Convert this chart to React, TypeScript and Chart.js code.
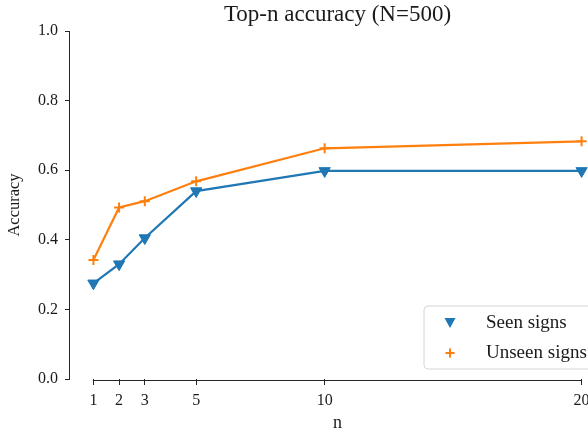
import React, { useEffect, useRef } from 'react';
import { Chart, registerables } from 'chart.js';

Chart.register(...registerables);

const nValues = [1, 2, 3, 5, 10, 20];
const seenAccuracy = [0.275, 0.33, 0.405, 0.54, 0.598, 0.598];
const unseenAccuracy = [0.342, 0.493, 0.511, 0.568, 0.663, 0.683];
const xTicks = [1, 2, 3, 5, 10, 20];
const yTicks = [0, 0.2, 0.4, 0.6, 0.8, 1.0];
const seriesLabels = ['Seen signs', 'Unseen signs'];
const titleText = 'Top-n accuracy (N=500)';
const xLabel = 'n';
const yLabel = 'Accuracy';

const BLUE = '#1f77b4';
const ORANGE = '#ff7f0e';
const AXIS = '#262626';
const TEXT = '#1a1a1a';
const FAMILY = '"Liberation Serif", "Times New Roman", serif';

const titlePlugin = {
  id: 'mplTitle',
  afterDraw(chart: any) {
    const { ctx, chartArea } = chart;
    ctx.save();
    ctx.font = `23px ${FAMILY}`;
    ctx.fillStyle = TEXT;
    ctx.textAlign = 'center';
    ctx.textBaseline = 'alphabetic';
    ctx.fillText(titleText, (chartArea.left + chartArea.right) / 2, 21);
    ctx.restore();
  },
};

const xAxisLinePlugin = {
  id: 'xAxisLine',
  afterDraw(chart: any) {
    const { ctx, chartArea } = chart;
    const xs = chart.scales.x;
    const x0 = xs.getPixelForValue(xTicks[0]);
    const x1 = xs.getPixelForValue(xTicks[xTicks.length - 1]);
    const y = chartArea.bottom + 1.5;
    ctx.save();
    ctx.strokeStyle = AXIS;
    ctx.lineWidth = 1;
    ctx.beginPath();
    ctx.moveTo(x0 - 0.5, y);
    ctx.lineTo(x1 + 0.5, y);
    ctx.stroke();
    ctx.restore();
  },
};

const legendPlugin = {
  id: 'mplLegend',
  afterDraw(chart: any) {
    const { ctx, chartArea } = chart;
    const w = 172;
    const h = 63;
    const right = chartArea.right - 10;
    const bottom = chartArea.bottom - 10;
    const left = right - w;
    const top = bottom - h;
    ctx.save();
    ctx.beginPath();
    const r = 4;
    ctx.moveTo(left + r, top);
    ctx.lineTo(right - r, top);
    ctx.quadraticCurveTo(right, top, right, top + r);
    ctx.lineTo(right, bottom - r);
    ctx.quadraticCurveTo(right, bottom, right - r, bottom);
    ctx.lineTo(left + r, bottom);
    ctx.quadraticCurveTo(left, bottom, left, bottom - r);
    ctx.lineTo(left, top + r);
    ctx.quadraticCurveTo(left, top, left + r, top);
    ctx.closePath();
    ctx.fillStyle = 'rgba(255,255,255,0.8)';
    ctx.fill();
    ctx.strokeStyle = '#d6d6d6';
    ctx.lineWidth = 1;
    ctx.stroke();

    const rows = [top + 17, top + 47];
    const mx = left + 26;
    const ty = rows[0];
    ctx.fillStyle = BLUE;
    ctx.beginPath();
    ctx.moveTo(mx - 5.5, ty - 5);
    ctx.lineTo(mx + 5.5, ty - 5);
    ctx.lineTo(mx, ty + 5);
    ctx.closePath();
    ctx.fill();
    const py = rows[1];
    ctx.strokeStyle = ORANGE;
    ctx.lineWidth = 2;
    ctx.beginPath();
    ctx.moveTo(mx - 4.5, py);
    ctx.lineTo(mx + 4.5, py);
    ctx.moveTo(mx, py - 4.5);
    ctx.lineTo(mx, py + 4.5);
    ctx.stroke();

    ctx.font = `19px ${FAMILY}`;
    ctx.fillStyle = TEXT;
    ctx.textAlign = 'left';
    ctx.textBaseline = 'middle';
    ctx.fillText(seriesLabels[0], left + 62, rows[0]);
    ctx.fillText(seriesLabels[1], left + 62, rows[1]);
    ctx.restore();
  },
};

export default function App() {
  const ref = useRef<HTMLCanvasElement>(null);

  useEffect(() => {
    document.body.style.margin = '0';
    const canvas = ref.current;
    if (!canvas) return;
    const chart = new Chart(canvas, {
      type: 'line',
      data: {
        datasets: [
          {
            label: seriesLabels[0],
            data: nValues.map((n, i) => ({ x: n, y: seenAccuracy[i] })),
            borderColor: BLUE,
            backgroundColor: BLUE,
            borderWidth: 2.2,
            tension: 0,
            fill: false,
            pointStyle: 'triangle',
            pointRotation: 180,
            pointRadius: 6.5,
            pointBackgroundColor: BLUE,
            pointBorderColor: BLUE,
            pointBorderWidth: 1,
          } as any,
          {
            label: seriesLabels[1],
            data: nValues.map((n, i) => ({ x: n, y: unseenAccuracy[i] })),
            borderColor: ORANGE,
            backgroundColor: ORANGE,
            borderWidth: 2.2,
            tension: 0,
            fill: false,
            pointStyle: 'cross',
            pointRadius: 5,
            pointBorderColor: ORANGE,
            pointBorderWidth: 2,
          } as any,
        ],
      },
      options: {
        responsive: false,
        animation: false,
        devicePixelRatio: 1,
        layout: { padding: { top: 31, left: 0, right: 0, bottom: 0 }, autoPadding: false },
        plugins: {
          legend: { display: false },
          title: { display: false },
          tooltip: { enabled: false },
        },
        events: [],
        scales: {
          x: {
            type: 'linear',
            min: 0.05,
            max: 20.95,
            afterBuildTicks: (s: any) => {
              s.ticks = xTicks.map((v) => ({ value: v }));
            },
            afterFit: (s: any) => {
              s.height = 55;
              s.paddingLeft = 0;
              s.paddingRight = 0;
            },
            grid: {
              drawOnChartArea: false,
              drawTicks: true,
              tickLength: 6,
              tickColor: AXIS,
              tickWidth: 1,
            },
            border: { display: false },
            ticks: {
              font: { family: FAMILY, size: 16 },
              color: TEXT,
              padding: 6,
              maxRotation: 0,
              autoSkip: false,
              callback: (v: any) => String(v),
            },
            title: {
              display: true,
              text: xLabel,
              font: { family: FAMILY, size: 18 },
              color: TEXT,
              padding: { top: 0, bottom: 0 },
            },
          },
          y: {
            type: 'linear',
            min: 0,
            max: 1,
            afterBuildTicks: (s: any) => {
              s.ticks = yTicks.map((v) => ({ value: v }));
            },
            afterFit: (s: any) => {
              s.width = 69;
              s.paddingTop = 0;
              s.paddingBottom = 0;
            },
            grid: {
              drawOnChartArea: false,
              drawTicks: true,
              tickLength: 4,
              tickColor: AXIS,
              tickWidth: 1,
            },
            border: { display: true, color: AXIS, width: 1 },
            ticks: {
              font: { family: FAMILY, size: 16 },
              color: TEXT,
              padding: 7,
              callback: (v: any) => Number(v).toFixed(1),
            },
            title: {
              display: true,
              text: yLabel,
              font: { family: FAMILY, size: 16.5 },
              color: TEXT,
              padding: { top: 5, bottom: 0 },
            },
          },
        },
      } as any,
      plugins: [titlePlugin, xAxisLinePlugin, legendPlugin],
    });
    return () => chart.destroy();
  }, []);

  return (
    <div style={{ position: 'absolute', left: 0, top: 0, width: 588, height: 434, overflow: 'hidden', background: '#fff' }}>
      <canvas ref={ref} width={606} height={434} style={{ display: 'block', width: 606, height: 434 }} />
    </div>
  );
}
